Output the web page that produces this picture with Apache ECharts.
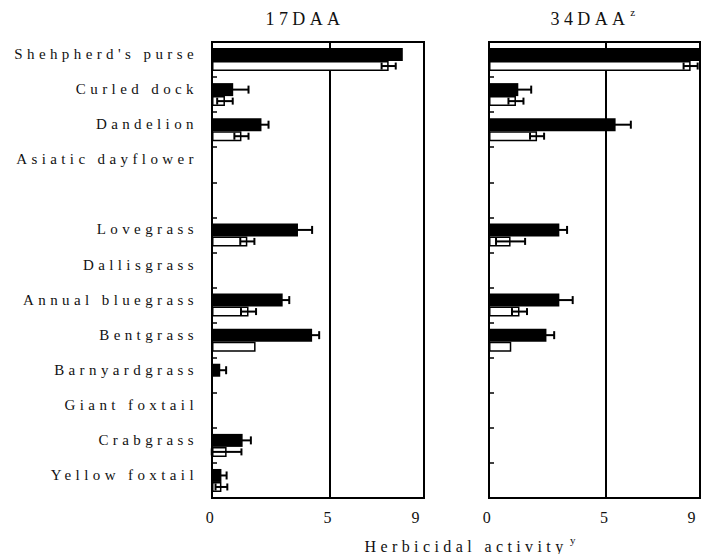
<!DOCTYPE html>
<html>
<head>
<meta charset="utf-8">
<script src="https://cdn.jsdelivr.net/npm/echarts@6/dist/echarts.min.js"></script>
<style>
  html, body { margin: 0; padding: 0; background: #fff; }
  #chart { width: 702px; height: 554px; }
  #chart text { letter-spacing: 4.4px; }
</style>
</head>
<body>
<div id="chart"></div>
<script>
// weed species (blank entry = gap between broadleaf and grass weeds)
const weeds = [
  "Shehpherd's purse", "Curled dock", "Dandelion", "Asiatic dayflower", "",
  "Lovegrass", "Dallisgrass", "Annual bluegrass", "Bentgrass",
  "Barnyardgrass", "Giant foxtail", "Crabgrass", "Yellow foxtail"
];

// 17 DAA
const black17    = [8.1, 0.9, 2.1, null, null, 3.65, null, 3.0, 4.25, 0.35, null, 1.3, 0.4];
const blackErr17 = [0, 0.65, 0.3, null, null, 0.6, null, 0.28, 0.3, 0.25, null, 0.35, 0.22];
const white17    = [7.5, 0.55, 1.25, null, null, 1.5, null, 1.55, 1.85, null, null, 0.62, 0.4];
const whiteErr17 = [0.3, 0.33, 0.3, null, null, 0.3, null, 0.32, 0, null, null, 0.63, 0.25];

// 34 DAA
const black34    = [9.0, 1.25, 5.4, null, null, 3.0, null, 3.0, 2.45, null, null, null, null];
const blackErr34 = [0, 0.55, 0.65, null, null, 0.33, null, 0.57, 0.33, null, null, null, null];
const white34    = [8.6, 1.15, 2.05, null, null, 0.92, null, 1.3, 0.95, null, null, null, null];
const whiteErr34 = [0.3, 0.32, 0.3, null, null, 0.62, null, 0.32, 0, null, null, null, null];

const xTicks = [0, 5, 9];

const FONT = '"Liberation Serif", "DejaVu Serif", serif';
const BLACK_W = 13;
const WHITE_W = 10;

const chart = echarts.init(document.getElementById("chart"), null, { renderer: "svg" });

function barData(vals) {
  return vals.map((v) => (v == null ? "-" : v));
}

function errData(vals, errs) {
  const out = [];
  vals.forEach((v, i) => {
    if (v != null && errs[i]) out.push([v, i, errs[i]]);
  });
  return out;
}

// error bar drawn at the centre of the black (upper) or white (lower) bar
function errRender(offset, cap) {
  return function (params, api) {
    const v = api.value(0);
    const cat = api.value(1);
    const e = api.value(2);
    const lo = api.coord([v - e, cat]);
    const hi = api.coord([v + e, cat]);
    const y = lo[1] + offset;
    const st = { stroke: "#000", lineWidth: 2 };
    return {
      type: "group",
      children: [
        { type: "line", shape: { x1: lo[0], y1: y, x2: hi[0], y2: y }, style: st },
        { type: "line", shape: { x1: lo[0], y1: y - cap / 2, x2: lo[0], y2: y + cap / 2 }, style: st },
        { type: "line", shape: { x1: hi[0], y1: y - cap / 2, x2: hi[0], y2: y + cap / 2 }, style: st },
      ],
    };
  };
}

const blackOff = -(BLACK_W + WHITE_W) / 2 + BLACK_W / 2;
const whiteOff = -(BLACK_W + WHITE_W) / 2 + BLACK_W + WHITE_W / 2;

function grid(left, width) {
  return {
    left: left,
    top: 42,
    width: width,
    height: 456,
    show: true,
    borderColor: "#000",
    borderWidth: 2,
    backgroundColor: "transparent",
    outerBoundsMode: "none",
  };
}

function xAxis(idx) {
  return {
    gridIndex: idx,
    type: "value",
    min: 0,
    max: 9,
    interval: 5,
    axisLine: { show: false },
    axisTick: { show: false },
    splitLine: { show: true, lineStyle: { color: "#000", width: 2 } },
    axisLabel: {
      fontFamily: FONT,
      fontSize: 16,
      color: "#111",
      margin: 11,
      alignMaxLabel: "right",
      formatter: (v) => (xTicks.includes(v) ? String(v) : ""),
    },
  };
}

function yAxis(idx) {
  return {
    gridIndex: idx,
    type: "category",
    data: weeds,
    inverse: true,
    axisLine: { show: false },
    axisTick: { show: true, inside: true, length: 5, lineStyle: { color: "#000", width: 1.5 } },
    splitLine: { show: false },
    axisLabel: {
      show: idx === 0,
      fontFamily: FONT,
      fontSize: 15,
      color: "#111",
      margin: 14,
      verticalAlign: "bottom",
      lineHeight: 11,
    },
  };
}

function panelSeries(idx, black, blackErr, white, whiteErr) {
  return [
    {
      type: "bar",
      xAxisIndex: idx,
      yAxisIndex: idx,
      data: barData(black),
      barWidth: BLACK_W,
      barGap: "0%",
      itemStyle: { color: "#000" },
      z: 3,
    },
    {
      type: "bar",
      xAxisIndex: idx,
      yAxisIndex: idx,
      data: barData(white),
      barWidth: WHITE_W,
      barGap: "0%",
      itemStyle: { color: "#fff", borderColor: "#000", borderWidth: 1.5 },
      z: 3,
    },
    {
      type: "custom",
      xAxisIndex: idx,
      yAxisIndex: idx,
      data: errData(black, blackErr),
      renderItem: errRender(blackOff, 8),
      z: 4,
    },
    {
      type: "custom",
      xAxisIndex: idx,
      yAxisIndex: idx,
      data: errData(white, whiteErr),
      renderItem: errRender(whiteOff, 7),
      z: 4,
    },
  ];
}

function label(text, x, y, size) {
  return {
    type: "text",
    x: x,
    y: y,
    style: {
      text: text,
      font: size + "px " + FONT,
      fill: "#111",
      textAlign: "center",
      textVerticalAlign: "middle",
      align: "center",
      verticalAlign: "middle",
    },
  };
}

const option = {
  animation: false,
  backgroundColor: "#fff",
  grid: [grid(212, 212), grid(489, 211)],
  xAxis: [xAxis(0), xAxis(1)],
  yAxis: [yAxis(0), yAxis(1)],
  series: [
    ...panelSeries(0, black17, blackErr17, white17, whiteErr17),
    ...panelSeries(1, black34, blackErr34, white34, whiteErr34),
  ],
  graphic: [
    label("17DAA", 305, 19, 18),
    label("34DAA", 590, 19, 18),
    label("z", 635, 12, 11),
    label("Herbicidal activity", 466, 546, 16),
    label("y", 575, 540, 11),
  ],
};

chart.setOption(option);
</script>
</body>
</html>
